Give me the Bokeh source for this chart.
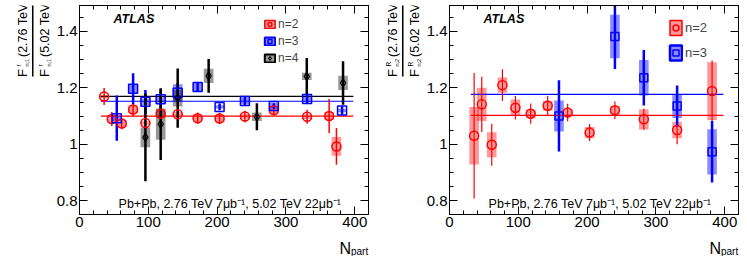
from math import pi
import numpy as np
from bokeh.plotting import figure
from bokeh.layouts import row, column
from bokeh.models import (FixedTicker, LinearAxis, Label, BoxAnnotation, Legend,
                          LegendItem, ColumnDataSource, Range1d)
from bokeh.embed import file_html
from bokeh.resources import INLINE

FONT = "Liberation Sans"
RED = "#ff0000"
BLUE = "#0000ff"
BLACK = "#000000"

# ---------------- data ----------------
x_major = [0, 100, 200, 300, 400]
x_minor = list(range(0, 421, 20))
y_major = [0.8, 1, 1.2, 1.4]
y_minor = [0.75, 0.8, 0.85, 0.9, 0.95, 1.0, 1.05, 1.1, 1.15, 1.2, 1.25, 1.3, 1.35, 1.4, 1.45, 1.5]

# Left panel: F^r_{n;1}(2.76)/F^r_{n;1}(5.02)
l_n2_x = [35.8, 46.9, 61.4, 77.9, 95.8, 118, 142.7, 171.7, 203.6, 240.4, 282.4, 330.8, 362.8, 373.4]
l_n2_y = [1.170, 1.090, 1.074, 1.124, 1.076, 1.109, 1.107, 1.093, 1.092, 1.099, 1.121, 1.098, 1.101, 0.993]
l_n2_stat = [0.030, 0.025, 0.020, 0.025, 0.020, 0.020, 0.015, 0.020, 0.020, 0.020, 0.015, 0.025, 0.060, 0.065]
l_n2_syst = [0.006, 0.013, 0.013, 0.014, 0.006, 0.014, 0.008, 0.013, 0.013, 0.008, 0.013, 0.008, 0.014, 0.033]

l_n3_x = [54.2, 77.9, 95.8, 118, 142.7, 171.7, 203.6, 240.4, 282.4, 330.8, 381.6]
l_n3_y = [1.093, 1.197, 1.151, 1.160, 1.183, 1.203, 1.133, 1.154, 1.136, 1.161, 1.120]
l_n3_stat = [0.080, 0.055, 0.042, 0.035, 0.035, 0.015, 0.012, 0.015, 0.010, 0.015, 0.015]
l_n3_syst = [0.010, 0.015, 0.012, 0.012, 0.030, 0.015, 0.006, 0.012, 0.012, 0.012, 0.006]

l_n4_x = [95.8, 118, 142.7, 187.7, 257.8, 330.3, 383.0]
l_n4_y = [1.025, 1.072, 1.164, 1.243, 1.098, 1.241, 1.218]
l_n4_stat = [0.155, 0.127, 0.105, 0.060, 0.048, 0.065, 0.077]
l_n4_syst = [0.035, 0.055, 0.030, 0.025, 0.015, 0.013, 0.025]

l_fit = {"n2": 1.100, "n3": 1.153, "n4": 1.170}
fit_x = [31, 398]

# Right panel: F^R_{n;2}(2.76)/F^R_{n;2}(5.02)
r_n2_x = [35.8, 46.9, 61.4, 76.9, 95.8, 118, 142.7, 171.7, 203.6, 240.4, 282.4, 330.8, 381.6]
r_n2_y = [1.031, 1.142, 0.999, 1.210, 1.130, 1.109, 1.137, 1.113, 1.042, 1.121, 1.089, 1.051, 1.189]
r_n2_stat = [0.222, 0.098, 0.074, 0.056, 0.042, 0.036, 0.035, 0.031, 0.030, 0.031, 0.037, 0.050, 0.108]
r_n2_syst = [0.102, 0.059, 0.044, 0.027, 0.029, 0.014, 0.018, 0.012, 0.020, 0.015, 0.036, 0.029, 0.102]

r_n3_x = [159.1, 240.4, 282.4, 330.8, 381.6]
r_n3_y = [1.101, 1.382, 1.236, 1.136, 0.974]
r_n3_stat = [0.126, 0.115, 0.098, 0.073, 0.109]
r_n3_syst = [0.055, 0.077, 0.063, 0.042, 0.080]

r_fit = {"n2": 1.103, "n3": 1.177}

# ---------------- layout constants ----------------
YLAB_W = 53
MAIN_BL = 26
FRAME_W, FRAME_H = 289, 209
TOP_B, BOT_B = 5, 26
MAIN_H = TOP_B + FRAME_H + BOT_B   # 240
STRIP_H = 16
FL = YLAB_W + MAIN_BL   # 79, frame left (panel-relative abs)
FB = TOP_B + FRAME_H    # 214, frame bottom (abs)
BOX_W = 14


def blank(w, h):
    p = figure(width=w, height=h, x_range=Range1d(0, 1), y_range=Range1d(0, 1),
               x_axis_location=None, y_axis_location=None, min_border=0,
               title=None, output_backend="svg", toolbar_location=None)
    p.outline_line_color = None
    p.grid.visible = False
    return p


def txt(p, x, y, text, size, **kw):
    p.add_layout(Label(x=x, y=y, x_units="screen", y_units="screen",
                       text=text, text_font=FONT, text_font_size=f"{size}px",
                       text_color="black", **kw))


def style_axis(ax, ticks, labels=True):
    ax.axis_line_color = "black"
    ax.axis_line_width = 1
    ax.major_tick_in = 8
    ax.major_tick_out = 0
    ax.minor_tick_in = 4
    ax.minor_tick_out = 0
    ax.major_tick_line_color = "black"
    ax.minor_tick_line_color = "black"
    if labels:
        ax.major_label_text_font = FONT
        ax.major_label_text_font_size = "15px"
        ax.major_label_text_color = "black"
    else:
        ax.major_label_overrides = {t: "" for t in ticks}
        ax.major_label_text_font_size = "1px"
        ax.major_label_standoff = 0


def ylabel_fig(sup, sub):
    # rotated fraction; (x = right edge of text box, y = start of text), absolute px
    p = blank(YLAB_W, MAIN_H)
    H = MAIN_H
    for bx, num in ((29, "(2.76 TeV)"), (51, "(5.02 TeV)")):
        txt(p, bx, H - 102.5, "F", 13, angle=pi / 2)
        txt(p, bx - 7.5, H - 92, sup, 6.5, angle=pi / 2)
        txt(p, bx + 0.5, H - 92, sub, 5.5, angle=pi / 2)
        txt(p, bx, H - 82.5, num, 12.5, angle=pi / 2)
    p.add_layout(BoxAnnotation(left=31.5, right=33, bottom=H - 102, top=H - 3,
                               left_units="screen", right_units="screen",
                               bottom_units="screen", top_units="screen",
                               fill_color="black", fill_alpha=1, line_color=None))
    return p


def xlabel_fig(w):
    p = blank(w, STRIP_H)
    total = MAIN_H + STRIP_H
    txt(p, 339, total - 256, "N", 16)
    txt(p, 350.5, total - 256, "part", 10)
    return p


def main_fig(border_right, series, fits, legend_cfg):
    p = figure(frame_width=FRAME_W, frame_height=FRAME_H,
               x_range=Range1d(0, 420), y_range=Range1d(0.752, 1.492),
               title=None, output_backend="svg", toolbar_location=None,
               min_border_left=MAIN_BL, min_border_right=border_right,
               min_border_top=TOP_B, min_border_bottom=BOT_B)
    p.grid.visible = False
    p.outline_line_color = "black"
    p.outline_line_width = 1

    p.xaxis.ticker = FixedTicker(ticks=x_major, minor_ticks=x_minor)
    p.yaxis.ticker = FixedTicker(ticks=y_major, minor_ticks=y_minor)
    style_axis(p.xaxis[0], x_major)
    style_axis(p.yaxis[0], y_major)
    p.xaxis.major_label_standoff = 2
    p.yaxis.major_label_standoff = 2
    p.yaxis.major_label_overrides = {1: "1"}
    top = LinearAxis(ticker=FixedTicker(ticks=x_major, minor_ticks=x_minor))
    style_axis(top, x_major, labels=False)
    p.add_layout(top, "above")
    right = LinearAxis(ticker=FixedTicker(ticks=y_major, minor_ticks=y_minor))
    style_axis(right, y_major, labels=False)
    p.add_layout(right, "right")

    mark_r, swatch_r = {}, {}
    for s in series:
        src = ColumnDataSource(dict(x=s["x"], y=s["y"], h=2 * np.array(s["syst"])))
        p.rect(x="x", y="y", width=BOX_W, height="h", source=src,
               fill_color=s["color"], fill_alpha=s["box_alpha"], line_color=None)
    for s in series:
        p.line(x=fit_x, y=[fits[s["key"]]] * 2, line_color=s["color"], line_width=1.2)
    for s in series:
        y = np.array(s["y"])
        st = np.array(s["stat"])
        src = ColumnDataSource(dict(x=s["x"], y0=y - st, y1=y + st))
        p.segment(x0="x", y0="y0", x1="x", y1="y1", source=src,
                  line_color=s["color"], line_width=s["err_w"])
    for s in series:
        src = ColumnDataSource(dict(x=s["x"], y=s["y"]))
        mark_r[s["key"]] = p.scatter(x="x", y="y", source=src, marker=s["marker"],
                                     size=s["size"], line_color=s["color"],
                                     line_width=s["mk_lw"], fill_alpha=0)
        # zero-size rects: only used to draw an outlined swatch in the legend
        swatch_r[s["key"]] = p.rect(x="x", y="y", width=0, height=0, source=src,
                                    fill_color=s["color"], fill_alpha=s["box_alpha"],
                                    line_color=s["color"], line_width=s["leg_lw"])

    items = [LegendItem(label=s["label"], renderers=[swatch_r[s["key"]], mark_r[s["key"]]])
             for s in series]
    lg = Legend(items=items, location=legend_cfg["loc"], padding=0, margin=0,
                spacing=legend_cfg["spacing"], glyph_width=legend_cfg["gw"],
                glyph_height=legend_cfg["gh"], label_height=legend_cfg["lh"],
                label_standoff=2, label_text_font=FONT,
                label_text_font_size=legend_cfg["fs"],
                background_fill_alpha=0, border_line_color=None)
    p.add_layout(lg)

    txt(p, 113 - FL, FB - 25, "ATLAS", 12.5, text_font_style="bold italic")
    txt(p, 229.5 - FL, FB - 210,
        "Pb+Pb, 2.76 TeV 7\u03bcb\u207b\u00b9, 5.02 TeV 22\u03bcb\u207b\u00b9", 12.5,
        text_align="center")
    return p


left_series = [
    dict(key="n2", label="n=2", x=l_n2_x, y=l_n2_y, stat=l_n2_stat, syst=l_n2_syst, color=RED,
         box_alpha=0.4, err_w=1.5, marker="circle", size=9, mk_lw=1.5, leg_lw=1.5),
    dict(key="n3", label="n=3", x=l_n3_x, y=l_n3_y, stat=l_n3_stat, syst=l_n3_syst, color=BLUE,
         box_alpha=0.45, err_w=2.5, marker="square", size=9, mk_lw=1.5, leg_lw=2),
    dict(key="n4", label="n=4", x=l_n4_x, y=l_n4_y, stat=l_n4_stat, syst=l_n4_syst, color=BLACK,
         box_alpha=0.4, err_w=2.5, marker="diamond", size=8, mk_lw=1.1, leg_lw=2),
]
right_series = [
    dict(key="n2", label="n=2", x=r_n2_x, y=r_n2_y, stat=r_n2_stat, syst=r_n2_syst, color=RED,
         box_alpha=0.4, err_w=1.2, marker="circle", size=9, mk_lw=1.5, leg_lw=1.5),
    dict(key="n3", label="n=3", x=r_n3_x, y=r_n3_y, stat=r_n3_stat, syst=r_n3_syst, color=BLUE,
         box_alpha=0.45, err_w=2.5, marker="square", size=8, mk_lw=1.5, leg_lw=2.5),
]

main1 = main_fig(2, left_series, l_fit,
                 dict(loc=(184, 149), spacing=3, gw=13, gh=10, lh=14, fs="12px"))
main2 = main_fig(8, right_series, r_fit,
                 dict(loc=(219, 152), spacing=6, gw=15, gh=19, lh=19, fs="13px"))

panel1 = column(row(ylabel_fig("r", "n;1"), main1), xlabel_fig(370))
panel2 = column(row(ylabel_fig("R", "n;2"), main2), xlabel_fig(377))

layout = row(panel1, panel2)
open("out.html", "w").write(file_html(layout, INLINE))
